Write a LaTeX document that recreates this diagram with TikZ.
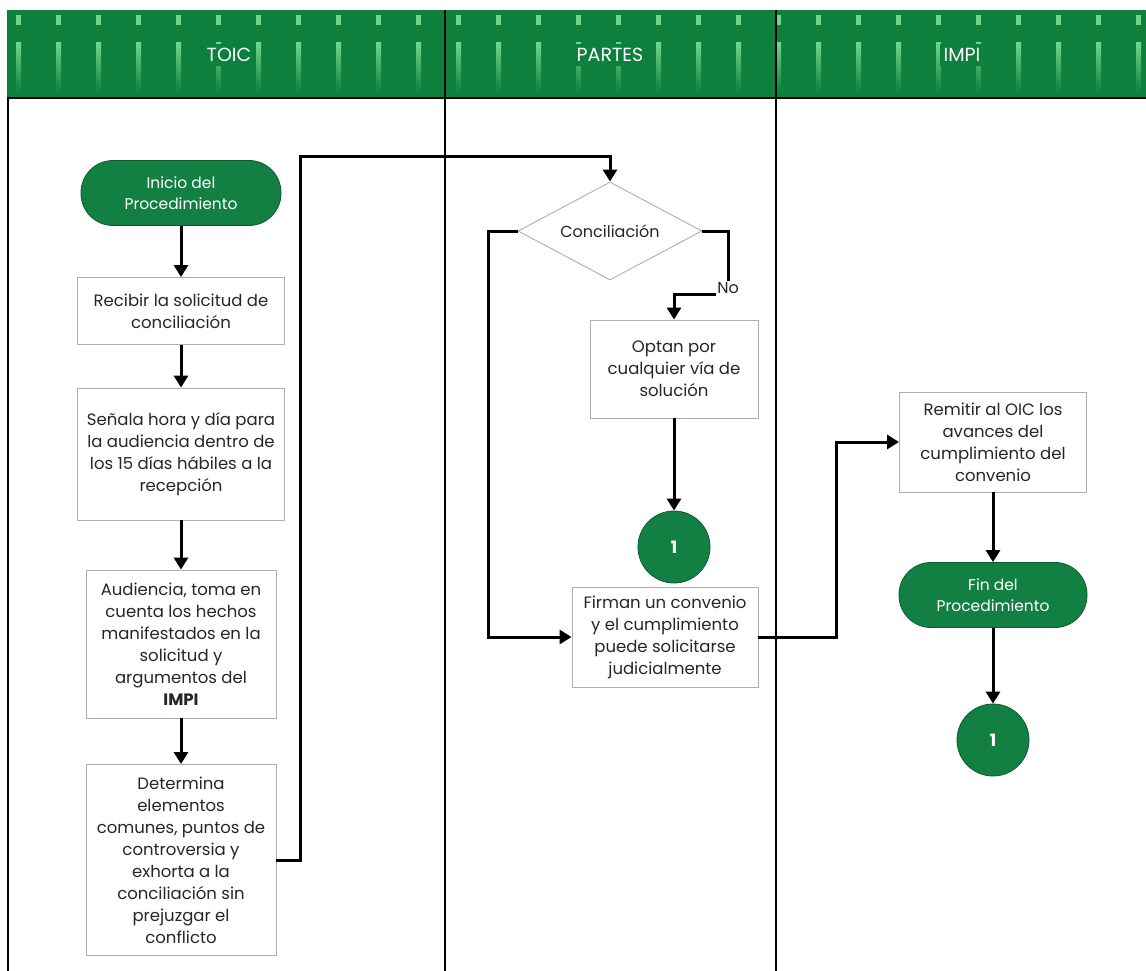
\documentclass[tikz,border=0pt]{standalone}
\usepackage{fontspec}
\setmainfont{Poppins}
\usetikzlibrary{arrows.meta,shapes.geometric,calc}
\definecolor{hgreen}{RGB}{12,128,60}
\definecolor{sgreen}{RGB}{110,215,140}
\definecolor{ngreen}{RGB}{18,128,66}
\definecolor{bgray}{RGB}{170,176,176}
\begin{document}
\begin{tikzpicture}[x=1pt,y=-1pt,
  box/.style={draw=bgray, line width=0.9pt, fill=white, align=center,
    font=\fontsize{16.5}{22}\selectfont, text=black!85, inner sep=2pt},
  term/.style={fill=ngreen, draw=ngreen!70!black, line width=0.8pt, rounded corners=32pt,
    align=center, text=white, font=\fontsize{15.5}{21}\selectfont,
    minimum width=200pt, minimum height=65pt},
  circ/.style={circle, fill=ngreen, draw=ngreen!70!black, line width=0.8pt,
    minimum size=72pt, text=white, font=\fontsize{17}{18}\selectfont\bfseries},
  hdr/.style={fill=hgreen, text=white, font=\fontsize{19}{22}\selectfont, inner sep=4pt},
  arr/.style={line width=3pt, -{Triangle[length=12pt,width=14pt]}},
  lane/.style={line width=1.8pt, black}
]
\useasboundingbox (0,0) rectangle (1146,971);
% header
\fill[hgreen] (7,10) rectangle (1146,98);
\foreach \x in {16,56,...,1140} {
  \fill[sgreen] (\x,15) rectangle (\x+5,25);
  \shade[top color=sgreen, bottom color=hgreen] (\x,43) rectangle (\x+5,92);
}
\node[hdr] (h1) at (229,55) {TOIC};
\node[hdr] (h2) at (610,55) {PARTES};
\node[hdr] (h3) at (962,55) {IMPI};
% lanes
\draw[lane] (7,98) -- (1146,98);
\draw[lane] (8,98) -- (8,971);
\draw[lane] (445,10) -- (445,971);
\draw[lane] (776,10) -- (776,971);
% TOIC lane
\node[term] (ini) at (181,193) {Inicio del\\Procedimiento};
\node[box, minimum width=207pt, minimum height=67pt] (b1) at (181,311)
  {Recibir la solicitud de\\conciliación};
\node[box, minimum width=207pt, minimum height=132pt] (b2) at (181,454)
  {Señala hora y día para\\la audiencia dentro de\\los 15 días hábiles a la\\recepción};
\node[box, minimum width=190pt, minimum height=148pt] (b3) at (181,644)
  {Audiencia, toma en\\cuenta los hechos\\manifestados en la\\solicitud y\\argumentos del\\\textbf{IMPI}};
\node[box, minimum width=190pt, minimum height=191pt] (b4) at (181,860)
  {Determina\\elementos\\comunes, puntos de\\controversia y\\exhorta a la\\conciliación sin\\prejuzgar el\\conflicto};
% PARTES lane
\node[diamond, aspect=1.9, draw=bgray, line width=0.9pt, fill=white, minimum width=184pt, minimum height=98pt,
  inner sep=0pt, font=\fontsize{16}{18}\selectfont, text=black!85] (dia) at (610,231) {Conciliación};
\node[font=\fontsize{16}{18}\selectfont, inner sep=1pt, text=black!85] (no) at (728,288) {No};
\node[box, minimum width=168pt, minimum height=98pt] (opt) at (674,369)
  {Optan por\\cualquier vía de\\solución};
\node[circ] (k1) at (674,547) {1};
\node[box, minimum width=186pt, minimum height=100pt] (fir) at (665,637)
  {Firman un convenio\\y el cumplimiento\\puede solicitarse\\judicialmente};
% IMPI lane
\node[box, minimum width=187pt, minimum height=100pt] (rem) at (993,442)
  {Remitir al OIC los\\avances del\\cumplimiento del\\convenio};
\node[term, minimum width=188pt] (fin) at (993,595) {Fin del\\Procedimiento};
\node[circ] (k2) at (993,740) {1};
% connectors
\coordinate (c1) at (300,157);
\coordinate (c2) at (488,231);
\coordinate (c3) at (836,442);
\draw[arr] (ini) -- (b1);
\draw[arr] (b1) -- (b2);
\draw[arr] (b2) -- (b3);
\draw[arr] (b3) -- (b4);
\draw[arr] (b4.east) -- (b4.east -| c1) -- (c1) -| (dia.north);
\draw[arr] (dia.west) -- (c2) |- (fir.west);
\draw[line width=3pt] (dia.east) -| (no.north);
\draw[arr] (no.south west) -| (opt.north);
\draw[arr] (opt) -- (k1);
\draw[arr] (fir.east) -| (c3) -- (rem.west);
\draw[arr] (rem) -- (fin);
\draw[arr] (fin) -- (k2);
\end{tikzpicture}
\end{document}
